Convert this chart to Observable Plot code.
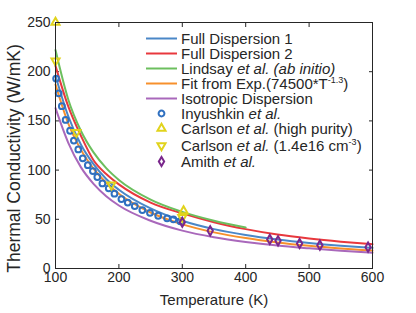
<!DOCTYPE html>
<html><head><meta charset="utf-8">
<script src="https://cdn.jsdelivr.net/npm/d3@7"></script>
<script src="https://cdn.jsdelivr.net/npm/@observablehq/plot@0.6"></script>
<style>
body{margin:0;background:#fff;font-family:"Liberation Sans",Arial,Helvetica,sans-serif;}
#wrap{position:relative;width:416px;height:313px;overflow:hidden;}
#legend{position:absolute;left:146px;top:31px;font-size:15px;color:#262626;}
.row{display:flex;align-items:center;height:15px;white-space:nowrap;line-height:15px;}
.row.tall{height:17px;padding-top:1px;}
.sw{width:31px;height:15px;margin-right:4px;flex:none;}
sup{font-size:9px;vertical-align:6px;line-height:0;}
</style></head>
<body><div id="wrap"><div id="chart"></div><div id="legend"></div></div>
<script>
// Curves
const temps = [100,120,140,160,180,200,250,300,350,400,450,500,550,600];
const fullDisp1 = [196,155,126,106,91,80,61,48.5,40,34,29.5,26,23.2,21];
const fullDisp2 = [206,165,135,110,96,85.5,67,56,47,40,34.5,30.5,27.3,24.7];
const lindsayT = [100,120,140,160,180,200,250,300,350,400];
const lindsay = [222,172,140,118,102,90,70,57.5,48.5,41.7];
const fitExp = [187,147.6,120.8,101.6,87.1,76,56.9,44.8,36.7,30.9,26.5,23.1,20.4,18.2];
const isotropic = [163,128,103,86,73.5,64,48.5,38.5,31.8,27,23.3,20.5,18,16];
// Measurements
const inyT = [101,105,110,116,123,129,136,143,151,159,166,174,184,193,204,214,225,237,249,262,276,286,297];
const inyK = [193,178,165,151,140,130,121,112,105,99,93,86.5,81.5,76,70.6,67,63.4,59.4,56.6,53.6,51,50,48];
const carlHPT = [100,302];
const carlHPK = [250,58.5];
const carlDT = [100,133,188,300];
const carlDK = [211,138.5,85,52];
const amithT = [300,344,438,451,485,517,593];
const amithK = [47,38.3,29.5,28.1,25.4,23.7,21.7];
// Ticks
const xTicks = [100,200,300,400,500,600];
const yTicks = [0,50,100,150,200,250];

const colors = {fd1:"#4a87c7", fd2:"#e8383d", lin:"#6cbf5e", fit:"#f7902c", iso:"#a968bb",
  iny:"#2f70c0", carl:"#e1d31c", amith:"#7a278c"};

const series = (xs, ys) => xs.map((x,i)=>({x, y: ys[i]}));
const lineOpts = c => ({x:"x", y:"y", stroke:c, strokeWidth:2, curve:"monotone-x"});

const plot = Plot.plot({
  width:416, height:313, marginLeft:55, marginRight:44, marginTop:22, marginBottom:45,
  style:{fontFamily:"Liberation Sans, Arial, Helvetica, sans-serif", fontSize:"14px", color:"#262626", background:"white", overflow:"visible"},
  x:{domain:[100,600]},
  y:{domain:[0,250]},
  marks:[
    Plot.axisX({ticks:xTicks, tickSize:-4, tickPadding:8, label:null, tickFormat:d=>String(d)}),
    Plot.axisX({anchor:"top", ticks:xTicks, tickSize:-4, tickFormat:()=>"", label:null}),
    Plot.axisY({ticks:yTicks, tickSize:-4, tickPadding:9, label:null, tickFormat:d=>String(d)}),
    Plot.axisY({anchor:"right", ticks:yTicks, tickSize:-4, tickFormat:()=>"", label:null}),
    Plot.line(series(temps, fullDisp1), lineOpts(colors.fd1)),
    Plot.line(series(temps, fullDisp2), lineOpts(colors.fd2)),
    Plot.line(series(lindsayT, lindsay), lineOpts(colors.lin)),
    Plot.line(series(temps, fitExp), lineOpts(colors.fit)),
    Plot.line(series(temps, isotropic), lineOpts(colors.iso)),
    Plot.dot(series(inyT, inyK), {x:"x", y:"y", symbol:"circle", r:2.9, stroke:colors.iny, strokeWidth:2, fill:"none"}),
    Plot.dot(series(carlHPT, carlHPK), {x:"x", y:"y", symbol:"triangle", r:3, stroke:colors.carl, strokeWidth:2, fill:"none"}),
    Plot.dot(series(carlDT, carlDK), {x:"x", y:"y", symbol:"triangle", rotate:180, r:3, stroke:colors.carl, strokeWidth:2, fill:"none"}),
    Plot.dot(series(amithT, amithK), {x:"x", y:"y", symbol:"diamond", r:2.8, stroke:colors.amith, strokeWidth:2, fill:"none"}),
    Plot.frame({stroke:"#262626", strokeWidth:1}),
    Plot.text(["Temperature (K)"], {frameAnchor:"bottom", dy:36, text:d=>d, fontSize:15, fill:"#262626"}),
    Plot.text(["Thermal Conductivity (W/mK)"], {frameAnchor:"left", textAnchor:"middle", lineAnchor:"middle", dx:-41, dy:13, rotate:-90, text:d=>d, fontSize:17.5, fill:"#262626"})
  ]
});
document.getElementById("chart").appendChild(plot);

// Legend
const legendItems = [
  {type:"line", color:colors.fd1, html:"Full Dispersion 1"},
  {type:"line", color:colors.fd2, html:"Full Dispersion 2"},
  {type:"line", color:colors.lin, html:"Lindsay <i>et al. (ab initio)</i>"},
  {type:"line", color:colors.fit, html:"Fit from Exp.(74500*T<sup>-1.3</sup>)"},
  {type:"line", color:colors.iso, html:"Isotropic Dispersion"},
  {type:"sym", sym:d3.symbolCircle, size:2.9, rot:0, color:colors.iny, html:"Inyushkin <i>et al.</i>"},
  {type:"sym", sym:d3.symbolTriangle, size:3, rot:0, color:colors.carl, html:"Carlson <i>et al.</i> (high purity)"},
  {type:"sym", sym:d3.symbolTriangle, size:3, rot:180, color:colors.carl, html:"Carlson <i>et al.</i> (1.4e16 cm<sup>-3</sup>)", tall:true},
  {type:"sym", sym:d3.symbolDiamond, size:2.8, rot:0, color:colors.amith, html:"Amith <i>et al.</i>"}
];
const leg = d3.select("#legend");
for (const it of legendItems) {
  const row = leg.append("div").attr("class", "row" + (it.tall ? " tall" : ""));
  const sv = row.append("svg").attr("class","sw").attr("width",31).attr("height",15);
  if (it.type === "line") {
    sv.append("line").attr("x1",0).attr("x2",31).attr("y1",7.5).attr("y2",7.5)
      .attr("stroke",it.color).attr("stroke-width",2);
  } else {
    sv.append("path").attr("d", d3.symbol(it.sym, Math.PI*it.size*it.size)())
      .attr("transform",`translate(15.5,7.5) rotate(${it.rot})`)
      .attr("fill","none").attr("stroke",it.color).attr("stroke-width",2);
  }
  row.append("span").html(it.html);
}
</script>
</body></html>
